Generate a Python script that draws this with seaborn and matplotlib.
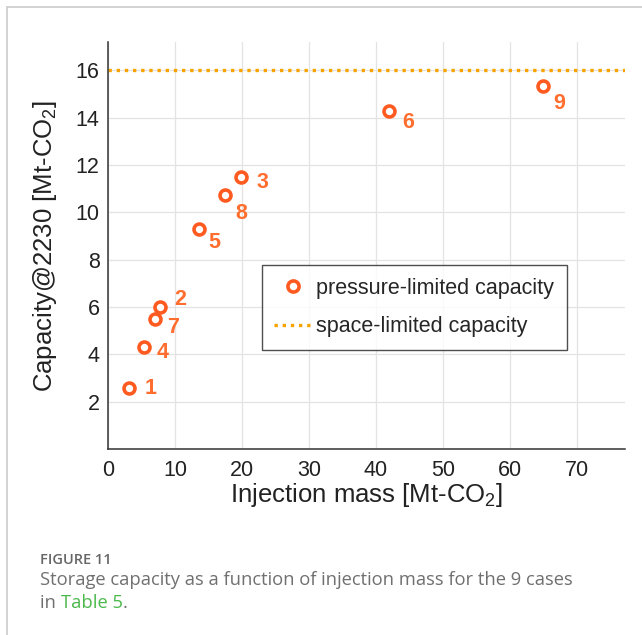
import matplotlib
matplotlib.use("Agg")
import matplotlib.pyplot as plt
import seaborn as sns
import pandas as pd
from matplotlib.lines import Line2D

# ---- data ----
case_ids = ["1", "2", "3", "4", "5", "6", "7", "8", "9"]
injection_mass = [3.1, 7.7, 19.8, 5.4, 13.6, 42.0, 7.0, 17.5, 64.9]
capacity = [2.56, 5.99, 11.5, 4.29, 9.31, 14.3, 5.51, 10.73, 15.33]
space_limited = 16.0
x_ticks = [0, 10, 20, 30, 40, 50, 60, 70]
y_ticks = [2, 4, 6, 8, 10, 12, 14, 16]

# label offsets in pixels (right, up)
label_offsets = {"1": (22, 0), "2": (21, 8), "3": (22, -6), "4": (18, -5),
                 "5": (15, -14), "6": (19, -12), "7": (18, -9), "8": (16, -18),
                 "9": (17, -17)}

df = pd.DataFrame({"case": case_ids, "mass": injection_mass, "cap": capacity})

sns.set_theme(style="white")
plt.rcParams["font.family"] = ["Liberation Sans", "DejaVu Sans"]
plt.rcParams["mathtext.default"] = "regular"

MARK = "#ff5a1f"
TXT = "#ff6e2e"
LINE = "#f6a500"

fig = plt.figure(figsize=(6.42, 6.35), dpi=100)
ax = fig.add_axes([0.1682, 0.2929, 0.9735 - 0.1682, 0.9339 - 0.2929])

ax.grid(True, color="#e3e3e3", lw=0.9)
ax.set_axisbelow(True)

ax.axhline(space_limited, color=LINE, lw=2.4, dashes=(1.0, 1.45), zorder=2)

sns.scatterplot(data=df, x="mass", y="cap", ax=ax, marker="o", s=62,
                facecolor="white", edgecolor=MARK, linewidth=2.6, zorder=3)

for c, xv, yv in zip(case_ids, injection_mass, capacity):
    dx, dy = label_offsets[c]
    ax.annotate(c, (xv, yv), xytext=(dx, dy), textcoords="offset pixels",
                ha="center", va="center", color=TXT, fontsize=15.5,
                weight="bold", zorder=4)

ax.set_xlim(0, 77.2)
ax.set_ylim(0, 17.2)
ax.set_xticks(x_ticks)
ax.set_yticks(y_ticks)
ax.tick_params(direction="in", length=5, width=1, colors="#333333",
               labelsize=15.5, labelcolor="#222222")
ax.tick_params(axis="x", pad=8)
ax.tick_params(axis="y", pad=6)
for s in ["top", "right"]:
    ax.spines[s].set_visible(False)
for s in ["left", "bottom"]:
    ax.spines[s].set_color("#333333")
    ax.spines[s].set_linewidth(1.1)

ax.set_xlabel("Injection mass [Mt-CO$_2$]", fontsize=18.5, color="#222222", labelpad=0)
ax.set_ylabel("Capacity@2230 [Mt-CO$_2$]", fontsize=18.5, color="#222222", labelpad=12)

handles = [
    Line2D([], [], marker="o", ls="none", ms=8, mfc="white", mec=MARK, mew=2.6),
    Line2D([], [], color=LINE, lw=2.4, dashes=(1.0, 1.45)),
]
leg = ax.legend(handles, ["pressure-limited capacity", "space-limited capacity"],
                loc="upper left", bbox_to_anchor=(0.297, 0.452), borderaxespad=0,
                fontsize=15.5, frameon=True, fancybox=False, edgecolor="#222222",
                handlelength=1.7, handletextpad=0.25, borderpad=0.6, labelspacing=0.8)
leg.get_frame().set_linewidth(1.0)

# figure frame lines
fig.add_artist(Line2D([7 / 642, 7 / 642], [0, 1 - 7 / 635], transform=fig.transFigure,
                      color="#cccccc", lw=1.2))
fig.add_artist(Line2D([7 / 642, 1], [1 - 7 / 635, 1 - 7 / 635], transform=fig.transFigure,
                      color="#cccccc", lw=1.2))

# caption
CAPF = ["Open Sans", "DejaVu Sans"]
fig.text(40 / 642, 1 - 560 / 635, "FIGURE 11", fontsize=10.5, color="#666666",
         family=CAPF, weight="semibold", va="center")
fig.text(40 / 642, 1 - 580 / 635,
         "Storage capacity as a function of injection mass for the 9 cases",
         fontsize=13.2, color="#707070", family=CAPF, va="center")
t1 = fig.text(40 / 642, 1 - 603 / 635, "in ", fontsize=13.2, color="#707070",
              family=CAPF, va="center")
fig.canvas.draw()
r = fig.canvas.get_renderer()
bb = t1.get_window_extent(r)
t2 = fig.text(bb.x1 / fig.bbox.width, 1 - 603 / 635, "Table 5", fontsize=13.2,
              color="#4cb84c", family=CAPF, va="center")
bb2 = t2.get_window_extent(r)
fig.text(bb2.x1 / fig.bbox.width, 1 - 603 / 635, ".", fontsize=13.2, color="#707070",
         family=CAPF, va="center")

fig.savefig("out.png", dpi=100)
